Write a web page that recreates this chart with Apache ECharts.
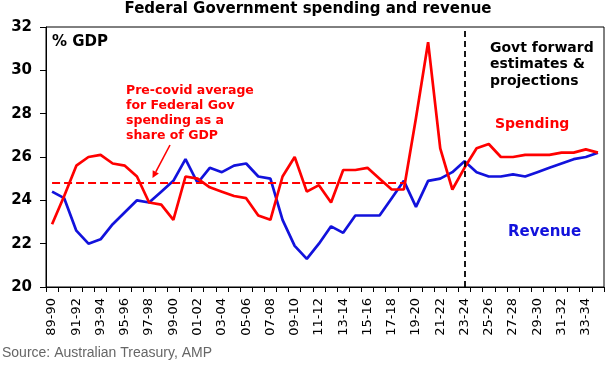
<!DOCTYPE html>
<html>
<head>
<meta charset="utf-8">
<script src="https://cdn.jsdelivr.net/npm/echarts@6/dist/echarts.min.js"></script>
<style>
html,body{margin:0;padding:0;background:#fff;}
#chart{width:616px;height:367px;}
</style>
</head>
<body>
<div id="chart"></div>
<script>
const categories = ['89-90','90-91','91-92','92-93','93-94','94-95','95-96','96-97','97-98','98-99',
  '99-00','00-01','01-02','02-03','03-04','04-05','05-06','06-07','07-08','08-09',
  '09-10','10-11','11-12','12-13','13-14','14-15','15-16','16-17','17-18','18-19',
  '19-20','20-21','21-22','22-23','23-24','24-25','25-26','26-27','27-28','28-29',
  '29-30','30-31','31-32','32-33','33-34','34-35'];

const spending = [22.9,24.2,25.6,26.0,26.1,25.7,25.6,25.1,23.9,23.8,
  23.1,25.1,25.0,24.6,24.4,24.2,24.1,23.3,23.1,25.1,
  26.0,24.4,24.7,23.9,25.4,25.4,25.5,25.0,24.5,24.5,
  27.8,31.3,26.4,24.5,25.5,26.4,26.6,26.0,26.0,26.1,
  26.1,26.1,26.2,26.2,26.35,26.2];

const revenue = [24.4,24.1,22.6,22.0,22.2,22.9,23.45,24.0,23.9,24.4,
  24.9,25.9,24.8,25.5,25.3,25.6,25.7,25.1,25.0,23.1,
  21.9,21.3,22.0,22.8,22.5,23.3,23.3,23.3,24.1,24.9,
  23.7,24.9,25.0,25.3,25.8,25.3,25.1,25.1,25.2,25.1,
  25.3,25.5,25.7,25.9,26.0,26.2];

const preCovidAverage = 24.8;
const averageStart = '89-90';
const averageEnd = '18-19';
const forecastStart = '23-24';
const yTicks = {min: 20, max: 32, interval: 2};

const RED = '#ff0000';
const BLUE = '#1212dc';
const FONT = 'DejaVu Sans';

const chart = echarts.init(document.getElementById('chart'), null, {renderer: 'canvas'});
chart.setOption({
  animation: false,
  backgroundColor: '#fff',
  grid: {left: 46, right: 12, top: 27, bottom: 80, show: true, borderColor: '#000', borderWidth: 1, backgroundColor: 'transparent'},
  xAxis: {
    type: 'category',
    data: categories,
    boundaryGap: true,
    axisLine: {lineStyle: {color: '#000', width: 1}},
    axisTick: {show: true, interval: 0, length: 5, lineStyle: {color: '#000'}},
    axisLabel: {interval: 1, rotate: 90, margin: 11, color: '#000', fontFamily: FONT, fontSize: 13}
  },
  yAxis: {
    type: 'value',
    min: yTicks.min, max: yTicks.max, interval: yTicks.interval,
    axisLine: {show: true, lineStyle: {color: '#000', width: 1}},
    axisTick: {show: true, length: 6, lineStyle: {color: '#000'}},
    splitLine: {show: false},
    axisLabel: {margin: 14, color: '#000', fontFamily: FONT, fontSize: 15, fontWeight: 'bold'}
  },
  series: [
    {
      name: 'Spending', type: 'line', data: spending, symbol: 'none',
      lineStyle: {color: RED, width: 2.7}, z: 3,
      markLine: {
        silent: true, symbol: 'none', label: {show: false},
        lineStyle: {color: RED, type: [8, 4], width: 2.2},
        data: [[{coord: [averageStart, preCovidAverage]}, {coord: [averageEnd, preCovidAverage]}]]
      }
    },
    {
      name: 'Revenue', type: 'line', data: revenue, symbol: 'none',
      lineStyle: {color: BLUE, width: 2.7}, z: 2,
      markLine: {
        silent: true, symbol: 'none', label: {show: false},
        lineStyle: {color: '#000', type: [6, 4], width: 1.8},
        data: [{xAxis: forecastStart}]
      }
    }
  ],
  graphic: [
    {type: 'text', left: 'center', top: 2, style: {text: 'Federal Government spending and revenue', font: 'bold 15px "DejaVu Sans"', fill: '#000'}},
    {type: 'text', left: 52, top: 35, style: {text: '% GDP', font: 'bold 15px "DejaVu Sans"', fill: '#000'}},
    {type: 'text', left: 126, top: 83.5, style: {text: 'Pre-covid average\nfor Federal Gov\nspending as a\nshare of GDP', font: 'bold 12.5px "DejaVu Sans"', fill: RED, lineHeight: 15}},
    {type: 'text', left: 490, top: 40, style: {text: 'Govt forward\nestimates &\nprojections', font: 'bold 14px "DejaVu Sans"', fill: '#000', lineHeight: 16.5}},
    {type: 'text', left: 495, top: 117, style: {text: 'Spending', font: 'bold 14px "DejaVu Sans"', fill: RED}},
    {type: 'text', left: 508, top: 225, style: {text: 'Revenue', font: 'bold 15px "DejaVu Sans"', fill: BLUE}},
    {type: 'text', left: 2, top: 346, style: {text: 'Source: Australian Treasury, AMP', font: '14px "Liberation Sans"', fill: '#666666'}},
    {type: 'line', shape: {x1: 170, y1: 145, x2: 155.8, y2: 171.8}, style: {stroke: RED, lineWidth: 1.6}},
    {type: 'polygon', shape: {points: [[152.5, 178], [158.9, 173.4], [152.7, 170.2]]}, style: {fill: RED}}
  ]
});
</script>
</body>
</html>
